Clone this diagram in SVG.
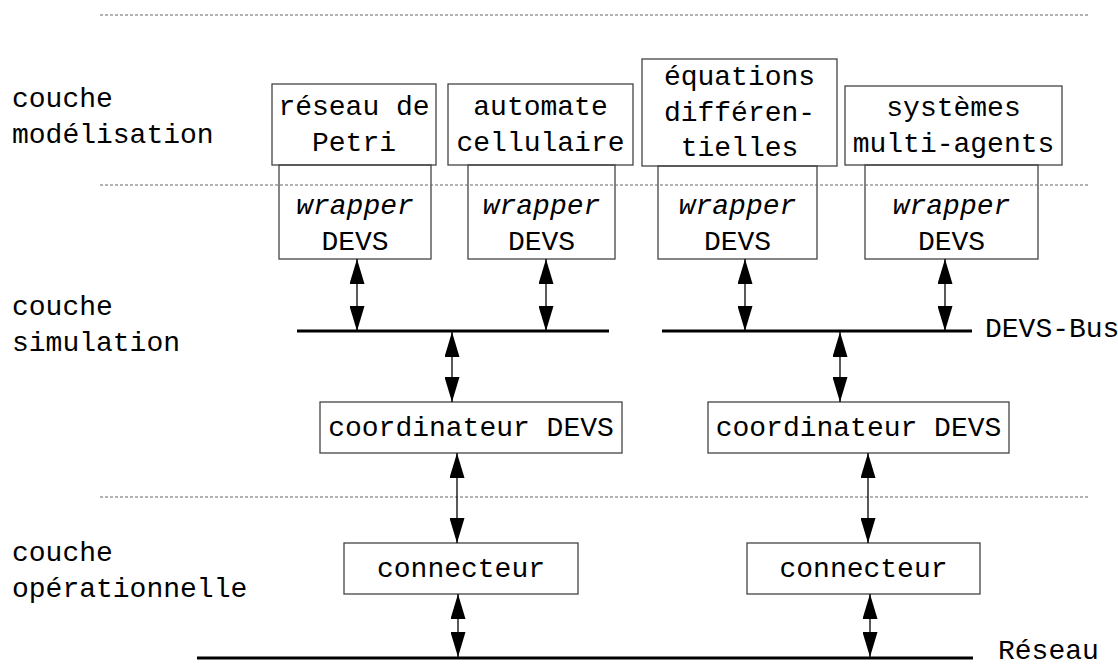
<svg xmlns="http://www.w3.org/2000/svg" width="1118" height="664" viewBox="0 0 1118 664">
  <style>
    text { font-family: "Liberation Mono", "Courier New", monospace; font-size: 28px; fill: #000; }
    .c { text-anchor: middle; }
    .it { font-style: italic; }
    .box { fill: none; stroke: #444; stroke-width: 1.3; }
    .sep { stroke: #666; stroke-width: 1; stroke-dasharray: 3 2; fill: none; }
    .bus { stroke: #000; stroke-width: 3; }
    .link { stroke: #000; stroke-width: 1.3; marker-start: url(#head); marker-end: url(#head); }
  </style>
  <defs>
    <marker id="head" markerUnits="userSpaceOnUse" markerWidth="25" markerHeight="15" refX="25" refY="7.5" orient="auto-start-reverse" viewBox="0 0 25 15">
      <path d="M0,0 L25,7.5 L0,15 Z" fill="#000"/>
    </marker>
  </defs>

  <!-- layer labels -->
  <g id="labels">
    <text x="12" y="107">couche</text>
    <text x="12" y="143">modélisation</text>
    <text x="12" y="315">couche</text>
    <text x="12" y="351">simulation</text>
    <text x="12" y="561">couche</text>
    <text x="12" y="597">opérationnelle</text>
  </g>

  <!-- modelling layer -->
  <g id="petri">
    <rect class="box" x="272" y="84" width="164" height="81"/>
    <text class="c" x="354" y="115">réseau de</text>
    <text class="c" x="354" y="151">Petri</text>
  </g>
  <g id="automate">
    <rect class="box" x="448" y="84" width="185" height="81"/>
    <text class="c" x="540.5" y="115">automate</text>
    <text class="c" x="540.5" y="151">cellulaire</text>
  </g>
  <g id="equations">
    <rect class="box" x="642" y="59" width="195" height="107"/>
    <text class="c" x="739.5" y="85">équations</text>
    <text class="c" x="739.5" y="121">différen-</text>
    <text class="c" x="739.5" y="156">tielles</text>
  </g>
  <g id="sma">
    <rect class="box" x="845" y="86" width="217" height="79"/>
    <text class="c" x="953.5" y="116">systèmes</text>
    <text class="c" x="953.5" y="152">multi-agents</text>
  </g>

  <!-- DEVS wrappers -->
  <g id="wrapper1">
    <rect class="box" x="279" y="165" width="152" height="94"/>
    <text class="c it" x="355" y="214">wrapper</text>
    <text class="c" x="355" y="250">DEVS</text>
  </g>
  <g id="wrapper2">
    <rect class="box" x="468" y="165" width="147" height="94"/>
    <text class="c it" x="541.5" y="214">wrapper</text>
    <text class="c" x="541.5" y="250">DEVS</text>
  </g>
  <g id="wrapper3">
    <rect class="box" x="658" y="166" width="159" height="93"/>
    <text class="c it" x="737.5" y="214">wrapper</text>
    <text class="c" x="737.5" y="250">DEVS</text>
  </g>
  <g id="wrapper4">
    <rect class="box" x="865" y="165" width="173" height="94"/>
    <text class="c it" x="951.5" y="214">wrapper</text>
    <text class="c" x="951.5" y="250">DEVS</text>
  </g>

  <!-- coordinators -->
  <g id="coord1">
    <rect class="box" x="320" y="402" width="302" height="51"/>
    <text class="c" x="471" y="436">coordinateur DEVS</text>
  </g>
  <g id="coord2">
    <rect class="box" x="708" y="402" width="301" height="51"/>
    <text class="c" x="858.5" y="436">coordinateur DEVS</text>
  </g>

  <!-- connectors -->
  <g id="conn1">
    <rect class="box" x="344" y="543" width="234" height="51"/>
    <text class="c" x="461" y="577">connecteur</text>
  </g>
  <g id="conn2">
    <rect class="box" x="747" y="543" width="233" height="51"/>
    <text class="c" x="863.5" y="577">connecteur</text>
  </g>

  <!-- buses -->
  <g id="buses">
    <line class="bus" x1="297" y1="331" x2="609" y2="331"/>
    <line class="bus" x1="662" y1="331" x2="972" y2="331"/>
    <text x="985" y="337">DEVS-Bus</text>
    <line class="bus" x1="197" y1="658" x2="973" y2="658"/>
    <text x="998" y="659">Réseau</text>
  </g>

  <!-- layer separators -->
  <g id="separators">
    <line class="sep" x1="100" y1="15" x2="1088" y2="15"/>
    <line class="sep" x1="100" y1="185" x2="1088" y2="185"/>
    <line class="sep" x1="100" y1="497" x2="1088" y2="497"/>
  </g>

  <!-- bidirectional links -->
  <g id="connectors">
    <line class="link" x1="357" y1="259" x2="357" y2="331"/>
    <line class="link" x1="546" y1="259" x2="546" y2="331"/>
    <line class="link" x1="745" y1="259" x2="745" y2="331"/>
    <line class="link" x1="945" y1="259" x2="945" y2="331"/>
    <line class="link" x1="452" y1="332" x2="452" y2="402"/>
    <line class="link" x1="840" y1="332" x2="840" y2="402"/>
    <line class="link" x1="457" y1="453" x2="457" y2="543"/>
    <line class="link" x1="868" y1="453" x2="868" y2="543"/>
    <line class="link" x1="458" y1="594" x2="458" y2="657"/>
    <line class="link" x1="870" y1="594" x2="870" y2="657"/>
  </g>
</svg>
